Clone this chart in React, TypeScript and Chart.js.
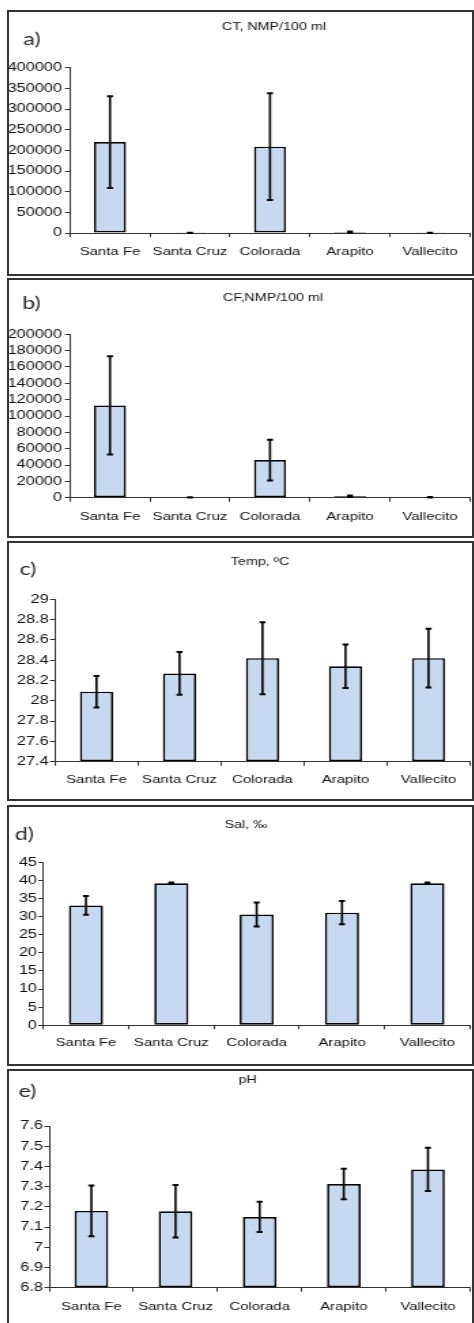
import React, { useEffect, useRef } from 'react';
import { Chart, registerables } from 'chart.js';

Chart.register(...registerables);

// Sampling sites
const sites = ['Santa Fe', 'Santa Cruz', 'Colorada', 'Arapito', 'Vallecito'];

// a) Total coliforms, NMP/100 ml (mean and standard deviation)
const ctMean = [220000, 600, 209000, 2500, 500];
const ctSd = [111000, 300, 129000, 1000, 200];
const ctTicks = [0, 50000, 100000, 150000, 200000, 250000, 300000, 350000, 400000];

// b) Faecal coliforms, NMP/100 ml
const cfMean = [113000, 500, 46000, 1800, 600];
const cfSd = [60000, 200, 25000, 900, 300];
const cfTicks = [0, 20000, 40000, 60000, 80000, 100000, 120000, 140000, 160000, 180000, 200000];

// c) Water temperature, ºC
const tempMean = [28.09, 28.27, 28.42, 28.34, 28.42];
const tempSd = [0.155, 0.21, 0.355, 0.215, 0.29];
const tempTicks = [27.4, 27.6, 27.8, 28, 28.2, 28.4, 28.6, 28.8, 29];

// d) Salinity, ‰
const salMean = [33.1, 39.2, 30.6, 31.1, 39.2];
const salSd = [2.6, 0.2, 3.3, 3.2, 0.2];
const salTicks = [0, 5, 10, 15, 20, 25, 30, 35, 40, 45];

// e) pH
const phMean = [7.18, 7.178, 7.15, 7.313, 7.385];
const phSd = [0.126, 0.13, 0.075, 0.075, 0.107];
const phTicks = [6.8, 6.9, 7, 7.1, 7.2, 7.3, 7.4, 7.5, 7.6];

// Figure geometry: the figure is drawn narrow and widened horizontally
const S = 1.36;
const BOX_LEFT = 7;
const BOX_W = 467;
const CANVAS_W = Math.round(BOX_W / S);
const BAR_FILL = '#C6D9F1';
const AXIS = '#333333';
const SANS = '"Liberation Sans", Arial, sans-serif';

type PanelSpec = {
  letter: string;
  title: string;
  mean: number[];
  sd: number[];
  ticks: number[];
  top: number;
  height: number;
  plot: { left: number; right: number; top: number; bottom: number };
  xLabelY: number;
  yLabelRight: number;
  letterAt: [number, number];
  titleAt: [number, number];
};

const panels: PanelSpec[] = [
  {
    letter: 'a)', title: 'CT, NMP/100 ml', mean: ctMean, sd: ctSd, ticks: ctTicks,
    top: 10, height: 266,
    plot: { left: 70, right: 470, top: 67.7, bottom: 233 },
    xLabelY: 252, yLabelRight: 62, letterAt: [32, 40], titleAt: [274, 27],
  },
  {
    letter: 'b)', title: 'CF,NMP/100 ml', mean: cfMean, sd: cfSd, ticks: cfTicks,
    top: 278, height: 260,
    plot: { left: 70, right: 470, top: 334.3, bottom: 497.7 },
    xLabelY: 516.7, yLabelRight: 62, letterAt: [31.5, 303.3], titleAt: [273, 298.3],
  },
  {
    letter: 'c)', title: 'Temp, ºC', mean: tempMean, sd: tempSd, ticks: tempTicks,
    top: 541, height: 260,
    plot: { left: 55, right: 470, top: 599.3, bottom: 761.7 },
    xLabelY: 780, yLabelRight: 50, letterAt: [28, 570], titleAt: [260, 561.7],
  },
  {
    letter: 'd)', title: 'Sal, ‰', mean: salMean, sd: salSd, ticks: salTicks,
    top: 805, height: 261,
    plot: { left: 43.3, right: 470, top: 862.3, bottom: 1025.3 },
    xLabelY: 1043, yLabelRight: 38, letterAt: [24.5, 835], titleAt: [246, 825],
  },
  {
    letter: 'e)', title: 'pH', mean: phMean, sd: phSd, ticks: phTicks,
    top: 1069, height: 262,
    plot: { left: 49.3, right: 470, top: 1126, bottom: 1287.7 },
    xLabelY: 1307, yLabelRight: 45, letterAt: [27.5, 1091.7], titleAt: [247.5, 1080],
  },
];

// Vertical error bars (mean ± sd) with short caps
const errorBars = {
  id: 'errorBars',
  afterDatasetsDraw(chart: any) {
    const ctx = chart.ctx;
    const yScale = chart.scales.y;
    chart.data.datasets.forEach((ds: any, di: number) => {
      const meta = chart.getDatasetMeta(di);
      meta.data.forEach((bar: any, i: number) => {
        const v = ds.data[i];
        const e = ds.sd[i];
        const yHi = yScale.getPixelForValue(v + e);
        const yLo = yScale.getPixelForValue(Math.max(v - e, yScale.min));
        const cap = 3 / S;
        ctx.save();
        ctx.strokeStyle = '#000';
        ctx.lineWidth = 1.6;
        ctx.beginPath();
        ctx.moveTo(bar.x, yHi);
        ctx.lineTo(bar.x, yLo);
        ctx.stroke();
        ctx.lineWidth = 2;
        ctx.beginPath();
        ctx.moveTo(bar.x - cap, yHi);
        ctx.lineTo(bar.x + cap, yHi);
        ctx.moveTo(bar.x - cap, yLo);
        ctx.lineTo(bar.x + cap, yLo);
        ctx.stroke();
        ctx.restore();
      });
    });
  },
};

// Panel letter and small heading
const panelText = {
  id: 'panelText',
  afterDraw(chart: any, _args: any, opts: any) {
    const ctx = chart.ctx;
    ctx.save();
    ctx.textAlign = 'center';
    ctx.textBaseline = 'middle';
    ctx.fillStyle = '#2b2b2b';
    ctx.font = '17px Lato, "Open Sans", sans-serif';
    ctx.fillText(opts.letter, opts.letterX, opts.letterY);
    ctx.fillStyle = '#111';
    ctx.font = `10.5px ${SANS}`;
    ctx.fillText(opts.title, opts.titleX, opts.titleY);
    ctx.restore();
  },
};

function Panel({ spec }: { spec: PanelSpec }) {
  const ref = useRef<HTMLCanvasElement | null>(null);

  useEffect(() => {
    if (!ref.current) return;
    const fx = (x: number) => (x - BOX_LEFT) / S;
    const fy = (y: number) => y - spec.top;
    const H = spec.height;
    const plotL = fx(spec.plot.left);
    const plotR = fx(spec.plot.right);
    const plotT = fy(spec.plot.top);
    const plotB = fy(spec.plot.bottom);
    const xH = 30;
    const xTick = 4;
    const yTick = 5 / S;
    const xPad = fy(spec.xLabelY) - plotB - xTick - 6.5;
    const yPad = Math.max(plotL - yTick - fx(spec.yLabelRight), 1);
    const yMin = spec.ticks[0];
    const yMax = spec.ticks[spec.ticks.length - 1];

    const chart = new Chart(ref.current, {
      type: 'bar',
      data: {
        labels: sites,
        datasets: [
          {
            data: spec.mean,
            sd: spec.sd,
            base: yMin,
            backgroundColor: BAR_FILL,
            borderColor: '#000',
            borderWidth: 1.7,
            borderSkipped: false,
            barPercentage: 0.4,
            categoryPercentage: 1,
          } as any,
        ],
      },
      options: {
        responsive: false,
        animation: false,
        devicePixelRatio: 1,
        layout: {
          padding: { left: 0, right: CANVAS_W - plotR, top: plotT, bottom: H - plotB - xH },
        },
        plugins: {
          legend: { display: false },
          tooltip: { enabled: false },
          title: { display: false },
          panelText: {
            letter: spec.letter,
            title: spec.title,
            letterX: fx(spec.letterAt[0]),
            letterY: fy(spec.letterAt[1]),
            titleX: fx(spec.titleAt[0]),
            titleY: fy(spec.titleAt[1]),
          },
        } as any,
        scales: {
          x: {
            type: 'category',
            offset: true,
            grid: {
              display: true,
              offset: true,
              drawOnChartArea: false,
              drawTicks: true,
              tickLength: xTick,
              tickColor: AXIS,
            },
            border: { display: true, color: AXIS, width: 1 },
            ticks: {
              autoSkip: false,
              maxRotation: 0,
              minRotation: 0,
              padding: xPad,
              color: '#111',
              font: { family: SANS, size: 11 },
            },
            afterFit: (s: any) => {
              s.height = xH;
            },
          },
          y: {
            type: 'linear',
            min: yMin,
            max: yMax,
            grid: {
              display: true,
              drawOnChartArea: false,
              drawTicks: true,
              tickLength: yTick,
              tickColor: AXIS,
            },
            border: { display: true, color: AXIS, width: 1 },
            ticks: {
              autoSkip: false,
              padding: yPad,
              color: '#111',
              font: { family: SANS, size: 12 },
              callback: (v: any) => String(v),
            },
            afterBuildTicks: (s: any) => {
              s.ticks = spec.ticks.map((v) => ({ value: v }));
            },
            afterFit: (s: any) => {
              s.width = plotL;
            },
          },
        },
      },
      plugins: [errorBars, panelText],
    });
    return () => chart.destroy();
  }, [spec]);

  return (
    <>
      <div
        style={{
          position: 'absolute',
          left: BOX_LEFT,
          top: spec.top,
          width: CANVAS_W,
          height: spec.height,
          transform: `scaleX(${S})`,
          transformOrigin: '0 0',
        }}
      >
        <canvas
          ref={ref}
          width={CANVAS_W}
          height={spec.height}
          style={{ width: CANVAS_W, height: spec.height, display: 'block' }}
        />
      </div>
      <div
        style={{
          position: 'absolute',
          left: BOX_LEFT,
          top: spec.top,
          width: BOX_W,
          height: spec.height,
          border: '2px solid #333',
          boxSizing: 'border-box',
          pointerEvents: 'none',
        }}
      />
    </>
  );
}

export default function App() {
  return (
    <div
      style={{
        position: 'absolute',
        left: 0,
        top: 0,
        width: 474,
        height: 1323,
        overflow: 'hidden',
        background: '#fff',
      }}
    >
      {panels.map((p) => (
        <Panel key={p.letter} spec={p} />
      ))}
    </div>
  );
}
